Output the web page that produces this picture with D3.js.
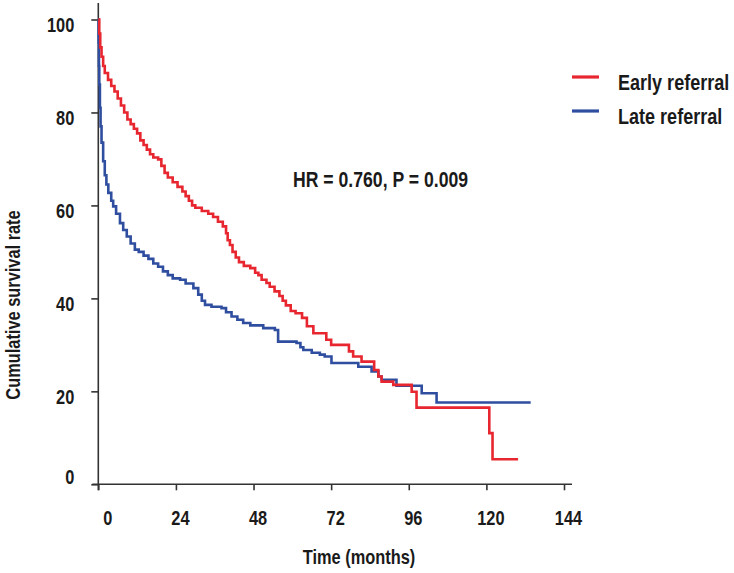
<!DOCTYPE html>
<html>
<head>
<meta charset="utf-8">
<script src="https://cdn.jsdelivr.net/npm/d3@7"></script>
<style>
  html, body { margin: 0; padding: 0; background: #fff; }
  svg { display: block; }
  text { font-family: "Liberation Sans Narrow", "Arial Narrow", "Liberation Sans", Arial, sans-serif; font-weight: bold; fill: #1a1a1a; }
</style>
</head>
<body>
<svg id="chart" width="734" height="573"></svg>
<script>
// ---- data ----
const seriesNames = ["Early referral", "Late referral"];
const seriesColors = ["#e8262f", "#2f4ea0"];
const xTicks = [0, 24, 48, 72, 96, 120, 144];
const yTicks = [0, 20, 40, 60, 80, 100];
const hrText = "HR = 0.760, P = 0.009";
const xTitle = "Time (months)";
const yTitle = "Cumulative survival rate";

const earlyTime = [0,0.3,0.6,1,1.5,2,3,4,5,6,7,8,9,10,11,12,13,14,15,16,17,18.5,19.5,20.5,21.5,23,24.5,26,27,28,29,30,32,34,35.5,37,38.5,39.5,40,40.7,41.5,42.5,43.5,45,47,48.5,49.5,50.5,52,53,54.5,56,57,58,59.5,61,63,64.5,66.5,70.5,72,77.5,78.8,81.4,85.3,86.6,87.6,91.2,96.9,98.4,120.9,121.9,129.8];
const earlySurv = [100,97,94,92,90,88.5,87,85.7,84.5,83,81.5,80,78.5,77.5,76.5,75.5,74,73,72,71,70.3,69.9,68.5,67,66,65,64,63,62,61,60,59.5,58.8,58.2,57.5,56.5,55.5,54,52.5,51.5,50,48.8,47.8,47,46.5,45.5,45,44,43.3,42.5,41.5,40.5,39.5,38.5,37.3,36.8,35.8,34,32.5,31.1,30,28.6,27.5,26.4,24.6,23.2,22.1,21.4,19.9,16.5,11,5.4,5.4];

const lateTime = [0,0.1,0.2,0.3,0.5,0.7,1,1.5,2,2.5,3.1,4,4.6,5.5,6.7,7.7,8.8,10,11.3,12.5,14,15.5,17,18.5,20,21.5,23,25.3,27,29.4,30.9,32,33,35,38.1,39.5,41.2,43,44.8,47,51,54.6,55.6,61.3,62.5,63.4,66,68.5,70,72.1,80.4,84.5,86.6,87.6,92.2,100,104.6,133.7];
const lateSurv = [100,95,90,86,81,77,73.5,69.5,66.5,64.5,62.7,61,59.8,58.2,56.2,54.7,53.3,51.8,50.5,50,49.2,48.5,47.5,46.8,45.8,45,44.3,44,43.2,42.2,40.8,39.5,38.6,38.2,37.9,37,36.1,35.4,34.7,34.2,33.6,33.2,30.7,30.4,29.5,28.9,28.3,27.9,27.5,26.1,25.3,24.3,23.2,22.5,21.2,19.6,17.6,17.6];

// ---- drawing ----
const svg = d3.select("#chart");
const x = d3.scaleLinear().domain([0, 144]).range([98.3, 564]);
const y = d3.scaleLinear().domain([0, 100]).range([484.3, 19.5]);
const axisColor = "#333";
const squeeze = 0.82; // emulate a narrow bold face

// move a text's x/y into a transform with horizontal squeeze
function condense(sel, rotate) {
  sel.each(function () {
    const t = d3.select(this);
    const tx = +t.attr("x") || 0, ty = +t.attr("y") || 0;
    t.attr("x", null).attr("y", null)
      .attr("transform", `translate(${tx},${ty})${rotate ? " rotate(" + rotate + ")" : ""} scale(${squeeze},1)`);
  });
}

// axis lines
svg.append("line").attr("x1", x(0)).attr("x2", x(0)).attr("y1", 3).attr("y2", y(0) + 6)
  .attr("stroke", axisColor).attr("stroke-width", 1.6);
svg.append("line").attr("x1", x(0) - 6).attr("x2", 572).attr("y1", y(0)).attr("y2", y(0))
  .attr("stroke", axisColor).attr("stroke-width", 1.6);

// y axis ticks
const yAxis = svg.append("g").attr("transform", `translate(${x(0)},0)`)
  .call(d3.axisLeft(y).tickValues(yTicks).tickSize(7).tickPadding(17).tickFormat(d3.format("d")));
yAxis.select(".domain").remove();
yAxis.selectAll(".tick line").attr("stroke", axisColor).attr("stroke-width", 1.6);
yAxis.selectAll(".tick text").attr("font-size", 20).attr("fill", "#1a1a1a")
  .attr("dy", d => d === 0 ? "-0.05em" : "0.6em").call(condense);

// x axis ticks
const xAxis = svg.append("g").attr("transform", `translate(0,${y(0)})`)
  .call(d3.axisBottom(x).tickValues(xTicks).tickSize(6).tickPadding(20).tickFormat(d3.format("d")));
xAxis.select(".domain").remove();
xAxis.selectAll(".tick line").attr("stroke", axisColor).attr("stroke-width", 1.6);
xAxis.selectAll(".tick text").attr("font-size", 20).attr("fill", "#1a1a1a")
  .attr("x", d => d === 0 ? 9 : 4).call(condense);

// axis titles
svg.append("text").attr("x", 359).attr("y", 564).attr("text-anchor", "middle")
  .attr("font-size", 20).text(xTitle).call(condense);
svg.append("text").attr("x", 20).attr("y", 305).attr("text-anchor", "middle")
  .attr("font-size", 20).text(yTitle).call(condense, -90);

// survival curves
const line = d3.line().x(d => x(d[0])).y(d => y(d[1])).curve(d3.curveStepAfter);
const series = [
  d3.zip(earlyTime, earlySurv),
  d3.zip(lateTime, lateSurv)
];
[1, 0].forEach(i => {
  svg.append("path").datum(series[i]).attr("d", line)
    .attr("fill", "none").attr("stroke", seriesColors[i]).attr("stroke-width", 2.6)
    .attr("stroke-linejoin", "miter");
});

// HR annotation
svg.append("text").attr("x", 293).attr("y", 187).attr("font-size", 21.5).text(hrText).call(condense);

// legend
const legend = svg.append("g");
seriesNames.forEach((name, i) => {
  const ly = 77 + i * 34;
  legend.append("line").attr("x1", 572).attr("x2", 599).attr("y1", ly).attr("y2", ly)
    .attr("stroke", seriesColors[i]).attr("stroke-width", 3.2);
  legend.append("text").attr("x", 618).attr("y", ly + 12.5).attr("font-size", 22).text(name).call(condense);
});
</script>
</body>
</html>
